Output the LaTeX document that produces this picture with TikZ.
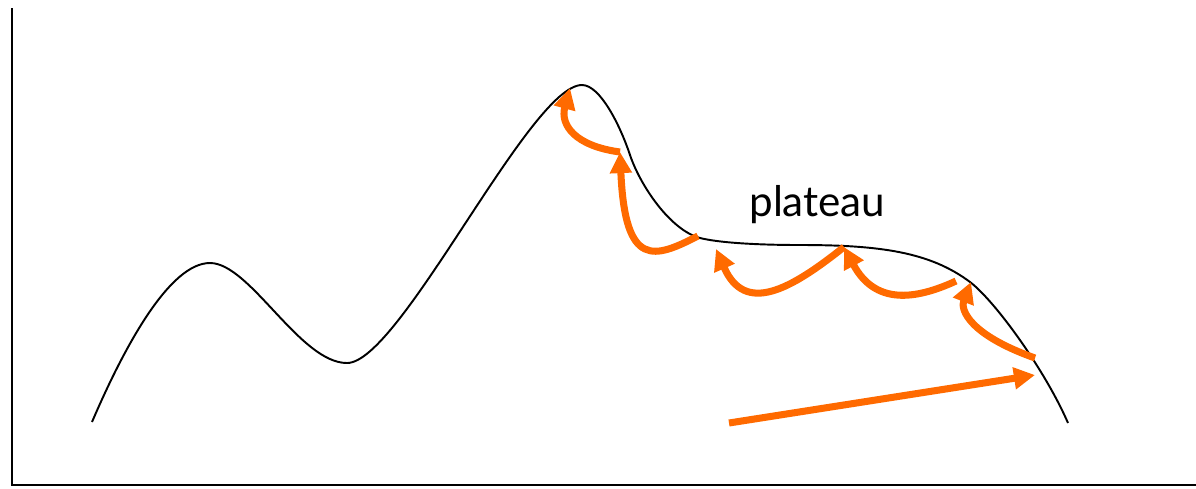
\documentclass[tikz,border=0pt]{standalone}
\usepackage{fontspec}
\setmainfont{Lato}
\usetikzlibrary{arrows.meta}
\definecolor{hop}{RGB}{255,106,0}

\begin{document}
\begin{tikzpicture}[
  x={(0.02cm,0)}, y={(0,-0.02cm)},
  axis/.style={line width=1.2pt, black},
  land/.style={line width=1.1pt, black},
  hopline/.style={line width=4pt, hop, -{Triangle[length=12pt, width=12pt]}},
  lbl/.style={font=\fontsize{24}{27}\selectfont, inner sep=0pt},
]
\useasboundingbox (0,0) rectangle (1196,488);

% ---- axes ----
\draw[axis] (12,8) -- (12,485) -- (1196,485);

% ---- landscape ----
\draw[land] (92,422)
  .. controls (125,345) and (170,263) .. (210,263)
  .. controls (250,263) and (300,363) .. (347,363)
  .. controls (400,363) and (530,85) .. (582,85)
  .. controls (600,85) and (620,125) .. (630,155)
  .. controls (640,185) and (670,230) .. (700,238)
  .. controls (720,243) and (760,245) .. (800,245)
  .. controls (880,245) and (930,252) .. (970,282)
  .. controls (995,301) and (1045,370) .. (1068,423);

% ---- points on the landscape ----
\coordinate (top)   at (570,88);
\coordinate (slope) at (620,152);
\coordinate (edge)  at (698,236);
\coordinate (left)  at (716,249);
\coordinate (mid)   at (844,247);
\coordinate (right) at (956,281);
\coordinate (bend)  at (971,282);
\coordinate (low)   at (1035,358);
\coordinate (start) at (729,423);
\coordinate (aim)   at (1035,375);

\node[lbl, anchor=base west] (plat) at (749,216) {plateau};

% ---- hops ----
\draw[hopline] (slope) .. controls (575,146) and (560,125) .. (top);
\draw[hopline] (edge) .. controls (655,258) and (625,270) .. (slope);
\draw[hopline] (mid) .. controls (790,290) and (745,315) .. (left);
\draw[hopline] (right) .. controls (915,300) and (875,305) .. (mid);
\draw[hopline] (low) .. controls (970,335) and (960,310) .. (bend);
\draw[hopline] (start) -- (aim);
\end{tikzpicture}
\end{document}
